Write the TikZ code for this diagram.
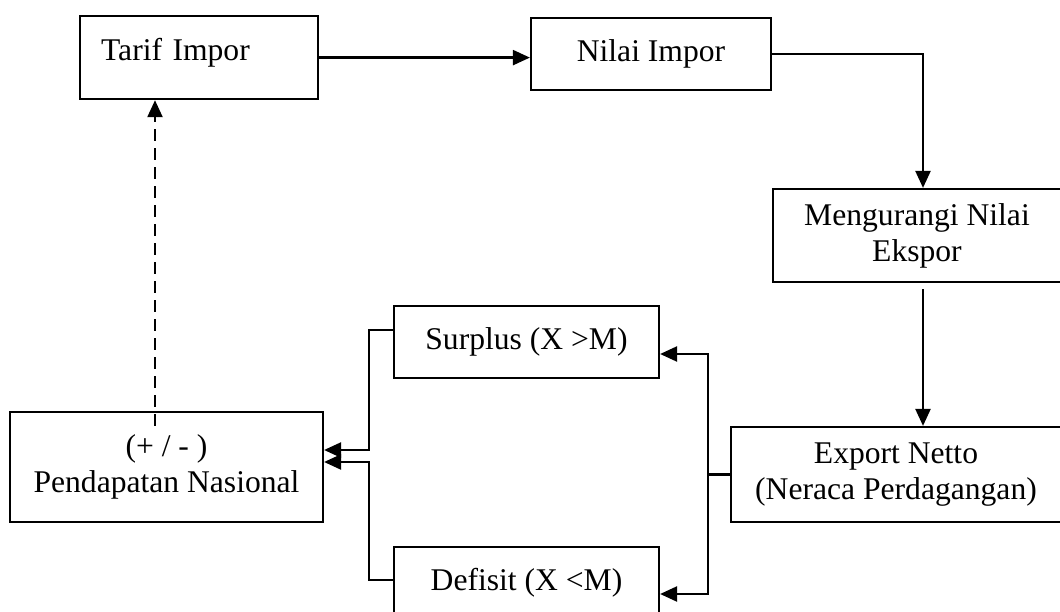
\documentclass[tikz,border=0pt]{standalone}
\usepackage{fontspec}
\setmainfont{Liberation Serif}
\usetikzlibrary{arrows.meta,calc}
\begin{document}
\begin{tikzpicture}[x=1pt,y=-1pt,
  box/.style={draw, line width=2.2pt, align=center, inner sep=0pt,
    font=\fontsize{31.6}{36}\selectfont},
  arr/.style={-{Triangle[length=17pt,width=15pt]}, line width=2.3pt},
  conn/.style={line width=2.3pt},
  dashline/.style={dash pattern=on 12pt off 7pt}]
\useasboundingbox (0,0) rectangle (1060,612);
\clip (0,0) rectangle (1060,612);

\node[box, anchor=north west, align=left, text width=196pt, inner xsep=21pt,
  inner ysep=0pt, text height=44pt, text depth=39pt] (ti) at (79,15) {Tarif Impor};
\node[box, minimum width=240pt, minimum height=72pt] (ni) at (651,54) {Nilai Impor};
\node[box, minimum width=288pt, minimum height=93pt] (mn) at (917,235.5) {Mengurangi Nilai\\Ekspor};
\node[box, minimum width=330pt, minimum height=95pt] (en) at (896,474.5) {Export Netto\\(Neraca Perdagangan)};
\node[box, minimum width=265pt, minimum height=72pt] (sp) at (526.5,342) {Surplus (X >M)};
\node[box, minimum width=265pt, minimum height=72pt] (df) at (526.5,583) {Defisit (X <M)};
\node[box, minimum width=313pt, minimum height=110pt] (pn) at (166.5,467) {(+ / - )\\Pendapatan Nasional};

\coordinate (bx) at (708,474.5);
\coordinate (ms) at ([xshift=6pt,yshift=-6pt]mn.south);
\coordinate (mnn) at ([xshift=6pt]mn.north);
\coordinate (ds) at ([xshift=-11.5pt,yshift=-15pt]pn.north);

\draw[arr] (ti.east) -- (ti.east -| ni.west);
\draw[arr] (ni.east) -| (mnn);
\draw[arr] (ms) -- (ms |- en.north);
\draw[conn] (en.west) -- (bx);
\draw[arr] (bx) |- ([yshift=-12pt]sp.east);
\draw[arr] (bx) |- ([yshift=-11pt]df.east);
\draw[arr] ([yshift=12pt]sp.west) -- ++(-24,0) |- ([yshift=17pt]pn.east);
\draw[arr] ([yshift=3pt]df.west) -- ++(-24,0) |- ([yshift=5pt]pn.east);
\draw[arr, dashline] (ds) -- (ds |- ti.south);
\end{tikzpicture}
\end{document}
